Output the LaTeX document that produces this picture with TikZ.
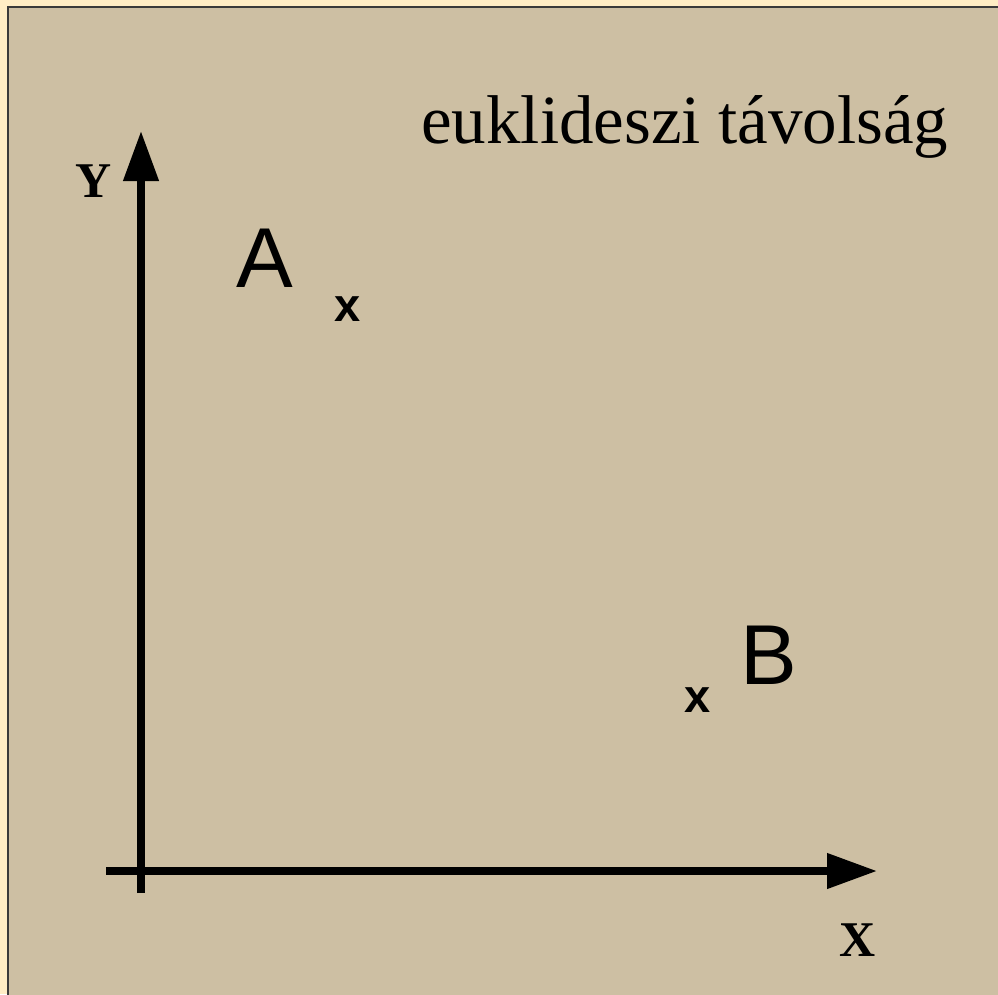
\documentclass[tikz,border=0pt]{standalone}
\usepackage{fontspec}
\setmainfont{Liberation Serif}
\newfontfamily\lsans{Liberation Sans}
\usetikzlibrary{arrows.meta}
\definecolor{cream}{HTML}{FFEDC5}
\definecolor{panel}{HTML}{CDBFA3}
\definecolor{edge}{HTML}{3A3A3A}
\tikzset{
  axis/.style={line width=7.5pt,-{Triangle[length=50pt,width=34pt]}},
  lbl/.style={anchor=base west,inner sep=0pt,text=black},
  pointlbl/.style={lbl,font=\lsans\fontsize{85}{90}\selectfont},
  mark x/.style={lbl,font=\lsans\bfseries\fontsize{47}{50}\selectfont},
  axislbl/.style={lbl,font=\bfseries\fontsize{50}{55}\selectfont},
}
\begin{document}
\begin{tikzpicture}[x=1pt,y=-1pt]
\useasboundingbox (0,0) rectangle (998,994);
\clip (0,0) rectangle (998,994);
\fill[cream] (0,0) rectangle (998,994);
\filldraw[fill=panel,draw=edge,line width=1.3pt] (8,7) rectangle (1020,1020);
\coordinate (ybot) at (141,893);
\coordinate (ytip) at (141,131);
\coordinate (xleft) at (106,871);
\coordinate (xtip) at (877,871);
\draw[axis] (ybot) -- (ytip);
\draw[axis] (xleft) -- (xtip);
\node[lbl,font=\fontsize{69}{75}\selectfont] (title) at (421,143) {euklideszi távolság};
\node[axislbl] (ylbl) at (75,197) {Y};
\node[axislbl] (xlbl) at (839,956) {X};
\node[pointlbl] (A) at (236,287) {A};
\node[pointlbl] (B) at (740,684) {B};
\node[mark x] (xa) at (334,321) {x};
\node[mark x] (xb) at (684,712) {x};
\end{tikzpicture}
\end{document}
